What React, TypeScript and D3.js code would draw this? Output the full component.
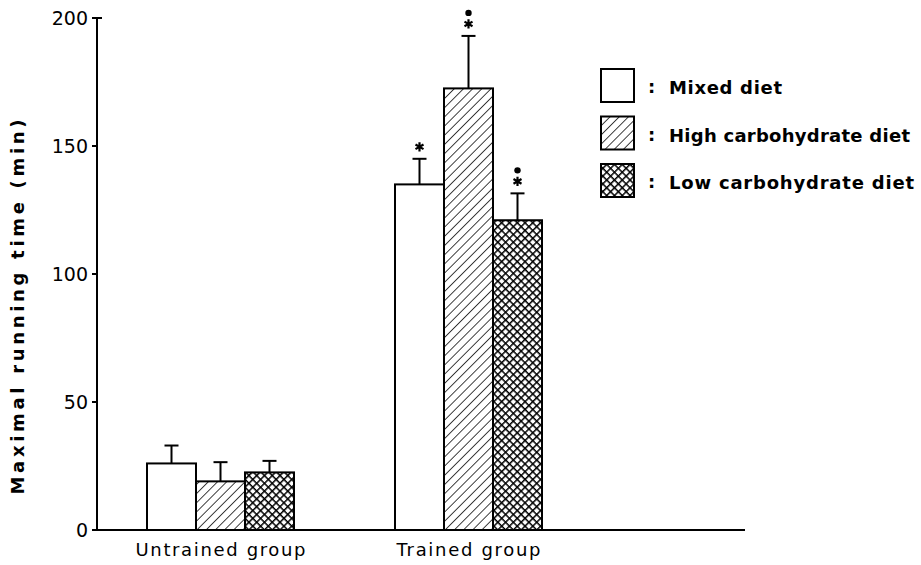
import React from "react";
import * as d3 from "d3";

const groups = ["Untrained group", "Trained group"];
const diets = ["Mixed diet", "High carbohydrate diet", "Low carbohydrate diet"];
const untrainedMeans = [26, 19, 22.5];
const untrainedErr = [7, 7.5, 4.5];
const trainedMeans = [135, 172.5, 121];
const trainedErr = [10, 20.5, 10.5];
const trainedMarks = [["star"], ["star", "dot"], ["star", "dot"]];
const yTicks = [0, 50, 100, 150, 200];

const W = 921, H = 565;
const x0 = 97, y0 = 530, yTop = 18;
const groupStarts = [147, 395];
const barW = 49;
const fills = ["#fff", "url(#hatch)", "url(#cross)"];
const groupLabelW = [170, 144];
const legendW = [113, 241, 245];

export default function App() {
  const y = d3.scaleLinear().domain([0, 200]).range([y0, yTop]);
  const series = [
    { means: untrainedMeans, err: untrainedErr, marks: [[], [], []] as string[][] },
    { means: trainedMeans, err: trainedErr, marks: trainedMarks },
  ];
  const font = "'DejaVu Sans', sans-serif";
  const star = d3.symbol().type(d3.symbolAsterisk).size(60)() as string;
  return (
    <svg width={W} height={H} style={{ position: "absolute", left: 0, top: 0, background: "#fff" }}>
      <defs>
        <pattern id="hatch" patternUnits="userSpaceOnUse" width="6.5" height="6.5" patternTransform="rotate(45)">
          <rect width="6.5" height="6.5" fill="#fff" />
          <line x1="0" y1="0" x2="0" y2="6.5" stroke="#000" strokeWidth="1.5" />
        </pattern>
        <pattern id="cross" patternUnits="userSpaceOnUse" width="5.5" height="5.5" patternTransform="rotate(45)">
          <rect width="5.5" height="5.5" fill="#fff" />
          <line x1="0" y1="0" x2="0" y2="5.5" stroke="#000" strokeWidth="3" />
          <line x1="0" y1="0" x2="5.5" y2="0" stroke="#000" strokeWidth="3" />
        </pattern>
      </defs>
      <line x1={x0} y1={y0} x2={745} y2={y0} stroke="#000" strokeWidth={2} />
      <line x1={x0} y1={y0} x2={x0} y2={yTop} stroke="#000" strokeWidth={2} />
      <line x1={x0} y1={yTop} x2={x0 + 5} y2={yTop} stroke="#000" strokeWidth={2} />
      {yTicks.map((t) => (
        <g key={t}>
          <line x1={x0 - 5} x2={x0} y1={y(t)} y2={y(t)} stroke="#000" strokeWidth={2} />
          <text x={x0 - 9} y={y(t)} dy="0.36em" textAnchor="end" fontFamily={font} fontSize={19} fill="#000">
            {t}
          </text>
        </g>
      ))}
      <text
        transform={`translate(24,307) rotate(-90)`}
        textAnchor="middle"
        fontFamily={font}
        fontWeight="bold"
        fontSize={18}
        textLength={375}
        lengthAdjust="spacing"
        fill="#000"
      >
        Maximal running time (min)
      </text>
      {series.map((s, gi) => (
        <g key={gi}>
          {s.means.map((m, i) => {
            const bx = groupStarts[gi] + i * barW;
            const cx = bx + barW / 2;
            const eTop = y(m + s.err[i]);
            return (
              <g key={i}>
                <line x1={cx} x2={cx} y1={y(m)} y2={eTop} stroke="#000" strokeWidth={2} />
                <line x1={cx - 7} x2={cx + 7} y1={eTop} y2={eTop} stroke="#000" strokeWidth={2} />
                <rect x={bx} y={y(m)} width={barW} height={y0 - y(m)} fill={fills[i]} stroke="#000" strokeWidth={2} />
                {s.marks[i].map((mk, k) =>
                  mk === "star" ? (
                    <path
                      key={k}
                      d={star}
                      transform={`translate(${cx},${eTop - 12})`}
                      fill="none"
                      stroke="#000"
                      strokeWidth={2.2}
                    />
                  ) : (
                    <circle key={k} cx={cx} cy={eTop - 23} r={3.2} fill="#000" />
                  )
                )}
              </g>
            );
          })}
          <text
            x={groupStarts[gi] + (barW * 3) / 2}
            y={556}
            textAnchor="middle"
            fontFamily={font}
            fontSize={18}
            textLength={groupLabelW[gi]}
            lengthAdjust="spacing"
            fill="#000"
          >
            {groups[gi]}
          </text>
        </g>
      ))}
      {diets.map((d, i) => {
        const ly = 69 + i * 47.5;
        return (
          <g key={d}>
            <rect x={601} y={ly} width={33} height={33} fill={fills[i]} stroke="#000" strokeWidth={2} />
            <text x={648} y={ly + 24} fontFamily={font} fontWeight="bold" fontSize={18} fill="#000">
              :
            </text>
            <text
              x={669}
              y={ly + 25}
              fontFamily={font}
              fontWeight="bold"
              fontSize={18}
              textLength={legendW[i]}
              lengthAdjust="spacing"
              fill="#000"
            >
              {d}
            </text>
          </g>
        );
      })}
    </svg>
  );
}
